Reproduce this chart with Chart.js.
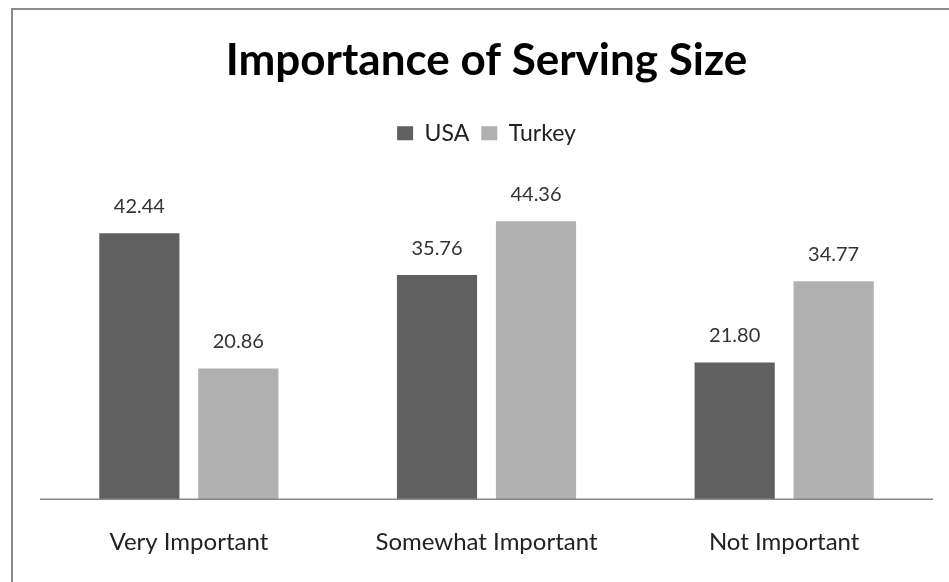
<!DOCTYPE html>
<html>
<head>
<meta charset="utf-8">
<script src="https://cdn.jsdelivr.net/npm/chart.js@4"></script>
<style>
    html, body { margin: 0; padding: 0; background: #fff; overflow: hidden; }
    #moldura {
        position: absolute; left: 11px; top: 8px; width: 960px; height: 600px;
        border: 2px solid #8c8c8c; box-sizing: border-box;
    }
    #grafico { position: absolute; left: 0; top: 0; }
</style>
</head>
<body>
<div id="moldura"></div>
<canvas id="grafico" width="949" height="582"></canvas>
<script>
const categorias = ['Very Important', 'Somewhat Important', 'Not Important'];
const valoresUSA = [42.44, 35.76, 21.80];
const valoresTurquia = [20.86, 44.36, 34.77];
const fonte = 'Lato, "Open Sans", sans-serif';

// rotulos de valor em cima das barras
const rotulos = {
    id: 'rotulos',
    afterDatasetsDraw(chart) {
        const ctx = chart.ctx;
        ctx.save();
        ctx.font = '20px ' + fonte;
        ctx.fillStyle = '#333333';
        ctx.textAlign = 'center';
        ctx.textBaseline = 'bottom';
        chart.data.datasets.forEach((ds, i) => {
            chart.getDatasetMeta(i).data.forEach((barra, j) => {
                ctx.fillText(ds.data[j].toFixed(2), barra.x, barra.y - 17);
            });
        });
        ctx.restore();
    }
};

// linha da base so na largura das categorias
const linhaBase = {
    id: 'linhaBase',
    afterDraw(chart) {
        const escalaX = chart.scales.x;
        const largura = (escalaX.getPixelForValue(1) - escalaX.getPixelForValue(0));
        const inicio = escalaX.getPixelForValue(0) - largura / 2;
        const fim = escalaX.getPixelForValue(categorias.length - 1) + largura / 2;
        const base = chart.scales.y.getPixelForValue(0);
        const ctx = chart.ctx;
        ctx.save();
        ctx.strokeStyle = '#888888';
        ctx.lineWidth = 1.5;
        ctx.beginPath();
        ctx.moveTo(inicio, base);
        ctx.lineTo(fim, base);
        ctx.stroke();
        ctx.restore();
    }
};

// espaco extra abaixo da legenda
const espacoLegenda = {
    id: 'espacoLegenda',
    beforeInit(chart) {
        const fitOriginal = chart.legend.fit;
        chart.legend.fit = function () {
            fitOriginal.bind(chart.legend)();
            this.height += 31;
        };
    }
};

new Chart(document.getElementById('grafico'), {
    type: 'bar',
    data: {
        labels: categorias,
        datasets: [{
            label: 'USA',
            data: valoresUSA,
            backgroundColor: '#606060'
        }, {
            label: 'Turkey',
            data: valoresTurquia,
            backgroundColor: '#b0b0b0'
        }]
    },
    options: {
        responsive: false,
        animation: false,
        categoryPercentage: 0.665,
        barPercentage: 0.81,
        layout: {
            padding: { left: 40, right: 16, top: 34, bottom: -4 }
        },
        scales: {
            y: {
                display: false,
                min: 0,
                max: 50
            },
            x: {
                grid: { display: false, drawTicks: false },
                border: { display: false },
                ticks: {
                    color: '#222222',
                    padding: 29,
                    font: { family: fonte, size: 24 }
                }
            }
        },
        plugins: {
            title: {
                display: true,
                text: 'Importance of Serving Size',
                color: '#000000',
                font: { family: fonte, size: 44, weight: 'bold' },
                padding: { top: 0, bottom: 23 }
            },
            legend: {
                display: true,
                labels: {
                    color: '#222222',
                    boxWidth: 16,
                    boxHeight: 14,
                    padding: 12,
                    font: { family: fonte, size: 23 }
                }
            },
            tooltip: { enabled: false }
        }
    },
    plugins: [rotulos, linhaBase, espacoLegenda]
});
</script>
</body>
</html>
